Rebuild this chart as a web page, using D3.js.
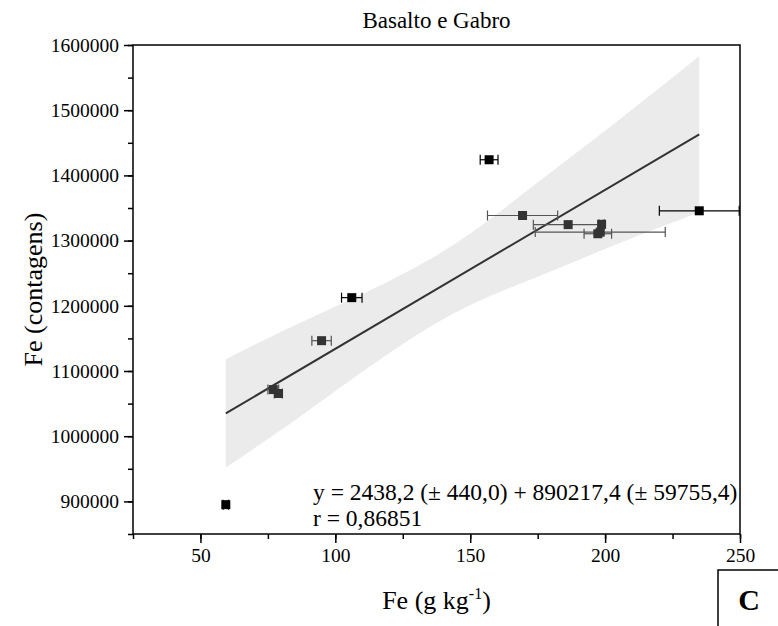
<!DOCTYPE html>
<html>
<head>
<meta charset="utf-8">
<script src="https://cdn.jsdelivr.net/npm/d3@7"></script>
<style>
  body { margin: 0; background: #fff; }
  text { font-family: "Liberation Serif", "Times New Roman", serif; fill: #000; }
</style>
</head>
<body>
<svg width="778" height="626"></svg>
<script>
// samples: rock type, Fe (g/kg) with its error, Fe counts
var rock = ["Basalto", "Gabro", "Gabro", "Gabro", "Basalto", "Basalto",
  "Gabro", "Gabro", "Gabro", "Gabro", "Gabro", "Basalto"];
var feGkg = [59.4, 77.0, 78.9, 94.9, 106.1, 157.0, 169.4, 186.3, 198.7, 197.3, 198.2, 234.9];
var feErr = [1.0, 2.0, 1.5, 3.6, 3.8, 3.3, 13.0, 12.9, 1.0, 5.1, 24.1, 14.8];
var feCounts = [895000, 1071500, 1065500, 1146500, 1212500, 1424000,
  1338500, 1324500, 1325000, 1310500, 1313000, 1345700];

// fit from the chart text
var slope = 2438.2, intercept = 890217.4;
var fitLabel = ["y = 2438,2 (\u00b1 440,0) + 890217,4 (\u00b1 59755,4)", "r = 0,86851"];

// confidence band
var bandFe = [59.4, 90.6, 135, 172, 205.5, 234.9];
var bandUpper = [1118000, 1181000, 1271400, 1379600, 1486300, 1583000];
var bandLower = [952000, 1041000, 1167400, 1239600, 1296300, 1343000];

var xTicks = [50, 100, 150, 200, 250];
var yTicks = [900000, 1000000, 1100000, 1200000, 1300000, 1400000, 1500000, 1600000];

var svg = d3.select("svg");
var pLeft = 133, pRight = 740, pTop = 45, pBottom = 534;

var x = d3.scaleLinear().domain([25, 250]).range([pLeft, pRight]);
var y = d3.scaleLinear().domain([850000, 1600000]).range([pBottom, pTop]);
var color = d3.scaleOrdinal().domain(["Basalto", "Gabro"]).range(["#000", "#333"]);
var barColor = d3.scaleOrdinal().domain(["Basalto", "Gabro"]).range(["#000", "#555"]);

svg.append("clipPath")
  .attr("id", "clip")
  .append("rect")
  .attr("x", pLeft)
  .attr("y", pTop)
  .attr("width", pRight - pLeft)
  .attr("height", pBottom - pTop);

var band = bandFe.map(function (d, i) {
  return { x: d, lo: bandLower[i], hi: bandUpper[i] };
});

svg.append("path")
  .datum(band)
  .attr("fill", "#ebebeb")
  .attr("d", d3.area()
    .curve(d3.curveNatural)
    .x(function (d) { return x(d.x); })
    .y0(function (d) { return y(d.lo); })
    .y1(function (d) { return y(d.hi); }));

var ext = d3.extent(feGkg);
svg.append("line")
  .attr("x1", x(ext[0]))
  .attr("y1", y(slope * ext[0] + intercept))
  .attr("x2", x(ext[1]))
  .attr("y2", y(slope * ext[1] + intercept))
  .attr("stroke", "#333")
  .attr("stroke-width", 2);

var pts = feGkg.map(function (d, i) {
  return { x: d, e: feErr[i], y: feCounts[i], rock: rock[i] };
});

var bars = svg.append("g")
  .attr("clip-path", "url(#clip)")
  .selectAll("g")
  .data(pts)
  .enter()
  .append("g")
  .attr("stroke", function (d) { return barColor(d.rock); })
  .attr("stroke-width", 1.2);

bars.append("line")
  .attr("x1", function (d) { return x(d.x - d.e); })
  .attr("x2", function (d) { return x(d.x + d.e); })
  .attr("y1", function (d) { return y(d.y); })
  .attr("y2", function (d) { return y(d.y); });

bars.selectAll(".cap")
  .data(function (d) {
    return [{ x: d.x - d.e, y: d.y }, { x: d.x + d.e, y: d.y }];
  })
  .enter()
  .append("line")
  .attr("class", "cap")
  .attr("x1", function (d) { return x(d.x); })
  .attr("x2", function (d) { return x(d.x); })
  .attr("y1", function (d) { return y(d.y) - 5; })
  .attr("y2", function (d) { return y(d.y) + 5; });

svg.append("g")
  .selectAll("rect")
  .data(pts)
  .enter()
  .append("rect")
  .attr("x", function (d) { return x(d.x) - 4.5; })
  .attr("y", function (d) { return y(d.y) - 4.5; })
  .attr("width", 9)
  .attr("height", 9)
  .attr("fill", function (d) { return color(d.rock); });

// frame
svg.append("rect")
  .attr("x", pLeft)
  .attr("y", pTop)
  .attr("width", pRight - pLeft)
  .attr("height", pBottom - pTop)
  .attr("fill", "none")
  .attr("stroke", "#000")
  .attr("stroke-width", 1.5);

// axes
var xAxis = svg.append("g")
  .attr("transform", "translate(0," + pBottom + ")");
xAxis.call(d3.axisBottom(x).tickValues(d3.range(25, 251, 25)).tickSize(5).tickFormat(""))
  .select(".domain").remove();
xAxis.append("g")
  .call(d3.axisBottom(x).tickValues(xTicks).tickSize(9).tickPadding(5))
  .select(".domain").remove();

var yAxis = svg.append("g")
  .attr("transform", "translate(" + pLeft + ",0)");
yAxis.call(d3.axisLeft(y).tickValues(d3.range(850000, 1600001, 50000)).tickSize(5).tickFormat(""))
  .select(".domain").remove();
yAxis.append("g")
  .call(d3.axisLeft(y).tickValues(yTicks).tickSize(9).tickPadding(5).tickFormat(d3.format("d")))
  .select(".domain").remove();

svg.selectAll(".tick line").attr("stroke", "#000").attr("stroke-width", 1.5);
svg.selectAll(".tick text")
  .attr("font-family", "Liberation Serif")
  .attr("font-size", 19.5)
  .attr("fill", "#000");

svg.append("text")
  .attr("x", (pLeft + pRight) / 2)
  .attr("y", 28)
  .attr("text-anchor", "middle")
  .attr("font-size", 23)
  .text("Basalto e Gabro");

svg.append("text")
  .attr("transform", "translate(42," + ((pTop + pBottom) / 2) + ") rotate(-90)")
  .attr("text-anchor", "middle")
  .attr("font-size", 26)
  .text("Fe (contagens)");

var xl = svg.append("text")
  .attr("x", (pLeft + pRight) / 2)
  .attr("y", 609)
  .attr("text-anchor", "middle")
  .attr("font-size", 26);
xl.append("tspan").text("Fe (g kg");
xl.append("tspan").attr("dy", -10).attr("font-size", 16).text("-1");
xl.append("tspan").attr("dy", 10).text(")");

svg.append("g")
  .selectAll("text")
  .data(fitLabel)
  .enter()
  .append("text")
  .attr("x", 313)
  .attr("y", function (d, i) { return 500 + i * 26; })
  .attr("font-size", 23.5)
  .text(function (d) { return d; });

// panel letter
svg.append("rect")
  .attr("x", 718)
  .attr("y", 570)
  .attr("width", 70)
  .attr("height", 70)
  .attr("fill", "#fff")
  .attr("stroke", "#000")
  .attr("stroke-width", 1.5);
svg.append("text")
  .attr("x", 749)
  .attr("y", 610)
  .attr("text-anchor", "middle")
  .attr("font-size", 30)
  .attr("font-weight", "bold")
  .text("C");
</script>
</body>
</html>
